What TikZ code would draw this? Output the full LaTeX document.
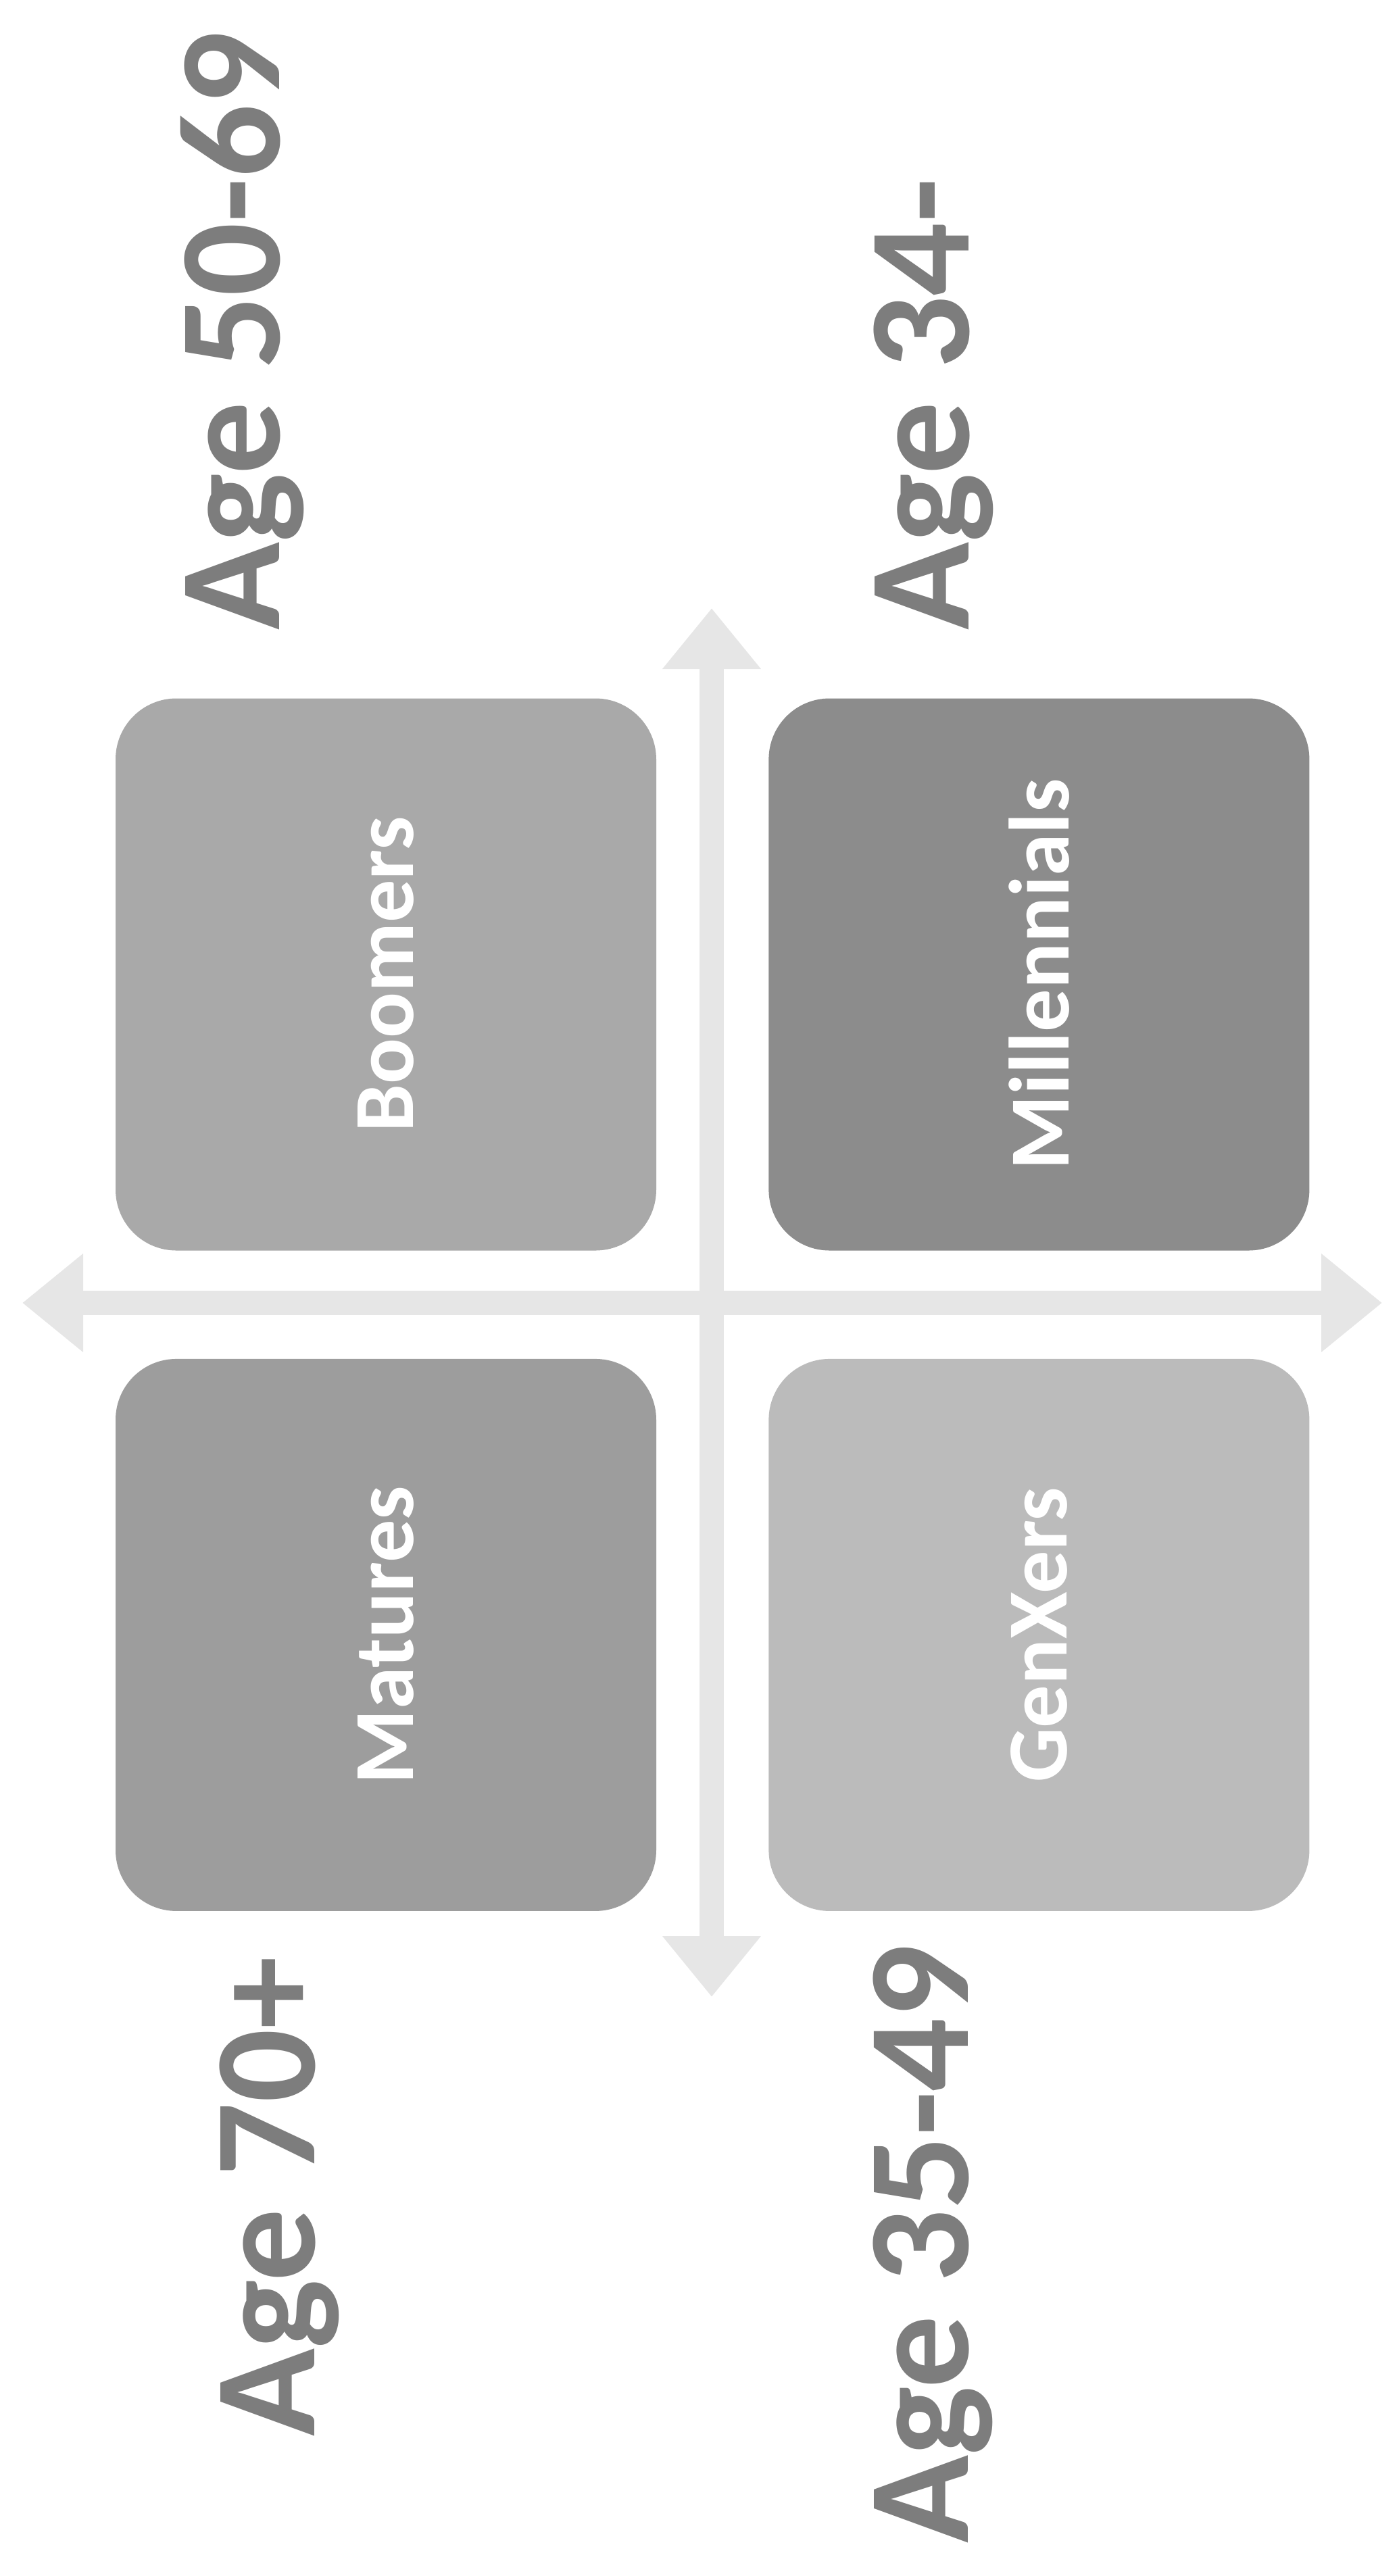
\documentclass[tikz,border=0pt]{standalone}
\usepackage{fontspec}
\setmainfont{Carlito}[Numbers=Lining]
\usepackage{tikz}
\usetikzlibrary{arrows.meta,positioning}
\definecolor{agegray}{HTML}{7D7D7D}
\definecolor{axisgray}{HTML}{E6E6E6}
\definecolor{boomfill}{HTML}{A9A9A9}
\definecolor{millfill}{HTML}{8C8C8C}
\definecolor{matfill}{HTML}{9D9D9D}
\definecolor{genxfill}{HTML}{BBBBBB}
\tikzset{
  >={Triangle[length=9mm, width=14mm]},
  genbox/.style={rounded corners=9mm, minimum width=8cm, minimum height=8.17cm, inner sep=0pt,
    text=white, font=\fontsize{36}{40}\selectfont\bfseries},
  agelbl/.style={rotate=90, inner sep=0pt, text=agegray, font=\fontsize{61}{70}\selectfont\bfseries},
  axis/.style={<->, draw=axisgray, line width=3.6mm},
}
\begin{document}
\begin{tikzpicture}
  \useasboundingbox (0,0) rectangle (20.70,-38.12);
  \node[genbox, fill=boomfill] (boomers) at (5.71,-14.42) {\rotatebox{90}{Boomers}};
  \node[genbox, fill=millfill, right=1.65cm of boomers] (millennials) {\rotatebox{90}{Millennials}};
  \node[genbox, fill=matfill, below=1.59cm of boomers] (matures) {\rotatebox{90}{Matures}};
  \node[genbox, fill=genxfill, right=1.65cm of matures] (genxers) {\rotatebox{90}{GenXers}};
  % axes between the four boxes
  \coordinate (vtop) at (10.53,-9.00);
  \coordinate (vbot) at (10.53,-29.55);
  \coordinate (hleft) at (0.33,-19.28);
  \coordinate (hright) at (20.45,-19.28);
  \draw[axis] (vtop) -- (vbot);
  \draw[axis] (hleft) -- (hright);
  % age labels
  \node[agelbl, anchor=base west] (age5069) at (4.13,-9.33) {Age 50-69};
  \node[agelbl, anchor=base west] (age34) at (14.33,-9.33) {Age 34-};
  \node[agelbl, anchor=base east] (age70) at (4.65,-28.95) {Age 70+};
  \node[agelbl, anchor=base east] (age3549) at (14.32,-28.77) {Age 35-49};
\end{tikzpicture}
\end{document}
